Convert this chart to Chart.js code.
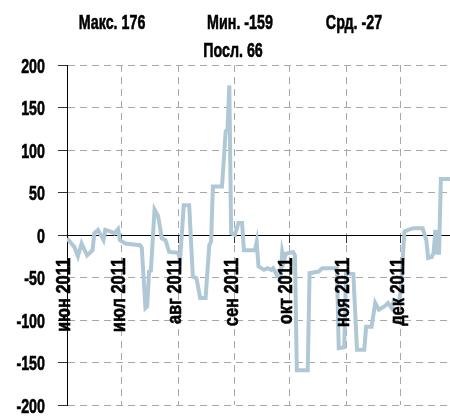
<!DOCTYPE html>
<html>
<head>
<meta charset="utf-8">
<script src="https://cdn.jsdelivr.net/npm/chart.js@4"></script>
<style>
html, body { margin: 0; padding: 0; background: #fff; }
#wrap { width: 450px; height: 417px; }
</style>
</head>
<body>
<div id="wrap"><canvas id="chart"></canvas></div>
<script>
// header texts
const statLabels = ['Макс. 176', 'Мин. -159', 'Срд. -27', 'Посл. 66'];

// month ticks (days counted from 1 June 2011)
const monthDays = [0, 30, 61, 92, 122, 153, 183];
const monthLabels = ['июн 2011', 'июл 2011', 'авг 2011', 'сен 2011', 'окт 2011', 'ноя 2011', 'дек 2011'];

// series
const days = [
    0, 4, 6, 8, 11, 14, 15, 17, 20, 21, 24, 26, 28, 29, 32, 40,
    41, 42, 43, 44, 45, 46, 48, 50, 52, 54, 56, 61, 62, 64, 67, 69,
    71, 73, 76, 78, 79, 80, 85, 87, 88, 89, 90, 92, 94, 96, 97, 103,
    104, 105, 108, 110, 112, 113, 115, 117, 118, 119, 120, 124, 125, 126, 132, 133,
    138, 140, 148, 149, 152, 153, 157, 159, 163, 164, 167, 169, 171, 174, 176, 178,
    179, 182, 183, 185, 187, 190, 195, 197, 198, 200, 201, 202, 203, 204, 205, 210
];
const values = [
    -4, -14, -25, -10, -24, -18, 2, 6, -6, 6, 4, 2, 7, -6, -10, -12,
    -15, -50, -86, -84, -43, -42, 30, 22, -4, -6, -20, -21, -30, 35, 35, -49,
    -51, -74, -74, -12, -8, 57, 57, 122, 124, 176, 2, 0, 14, 14, -18, -18,
    -8, -37, -41, -39, -41, -39, -47, -51, -20, -30, -22, -20, -24, -159, -159, -45,
    -43, -39, -39, -133, -132, -45, -46, -135, -135, -108, -108, -80, -88, -84, -80, -86,
    -79, -80, -65, 4, 6, 8, 8, -6, -27, -26, -21, 6, -21, -21, 66, 66
];

// no condensed face installed, so squeeze a normal one
const FONT = "bold 21px 'Liberation Sans', Arial, sans-serif";

function narrowText(ctx, text, x, y, align, sx, angle) {
    ctx.save();
    ctx.translate(x, y);
    if (angle) ctx.rotate(angle);
    ctx.scale(sx, 1);
    ctx.textAlign = align;
    ctx.textBaseline = 'middle';
    ctx.strokeText(text, 0, 0);
    ctx.fillText(text, 0, 0);
    ctx.restore();
}

const labelsPlugin = {
    id: 'narrowLabels',
    afterDraw(chart) {
        const ctx = chart.ctx;
        const xs = chart.scales.x;
        const ys = chart.scales.y;
        ctx.save();
        ctx.font = FONT;
        ctx.fillStyle = '#000';
        ctx.strokeStyle = '#000';
        ctx.lineWidth = 0.6;

        narrowText(ctx, statLabels[0], 112, 23, 'center', 0.68);
        narrowText(ctx, statLabels[1], 240, 23, 'center', 0.68);
        narrowText(ctx, statLabels[2], 354, 23, 'center', 0.68);
        narrowText(ctx, statLabels[3], 233, 51, 'center', 0.68);

        ys.ticks.forEach(t => {
            narrowText(ctx, String(t.value), ys.right - 22, ys.getPixelForValue(t.value) + 2, 'right', 0.68);
        });

        const y0 = ys.getPixelForValue(0);
        monthDays.forEach((d, i) => {
            narrowText(ctx, monthLabels[i], xs.getPixelForValue(d) - 3, y0 + 23, 'right', 0.78, -Math.PI / 2);
        });
        ctx.restore();
    }
};

const ctx = document.getElementById('chart').getContext('2d');
new Chart(ctx, {
    type: 'line',
    data: {
        datasets: [{
            data: days.map((d, i) => ({ x: d, y: values[i] })),
            borderColor: '#b0c8d6',
            borderWidth: 4,
            pointRadius: 0,
            tension: 0,
            fill: false
        }]
    },
    options: {
        responsive: true,
        maintainAspectRatio: false,
        animation: false,
        layout: { padding: { top: 65, bottom: 12, left: 0, right: 0 } },
        plugins: {
            legend: { display: false },
            tooltip: { enabled: false }
        },
        scales: {
            x: {
                type: 'linear',
                min: 0,
                max: 210,
                position: { y: 0 },
                afterFit: (s) => { s.height = 0; s.paddingLeft = 0; s.paddingRight = 0; },
                afterBuildTicks: (s) => { s.ticks = monthDays.map(v => ({ value: v })); },
                ticks: { display: false, autoSkip: false },
                grid: { color: '#a8a8a8', tickColor: '#333', tickLength: 7 },
                border: { color: '#000', width: 1, dash: [7, 5] }
            },
            y: {
                min: -200,
                max: 200,
                afterFit: (s) => { s.width = 67; s.paddingTop = 0; s.paddingBottom = 0; },
                ticks: { display: false, stepSize: 50 },
                grid: { color: '#a8a8a8', tickColor: '#333', tickLength: 9 },
                border: { color: '#000', width: 1, dash: [7, 5] }
            }
        }
    },
    plugins: [labelsPlugin]
});
</script>
</body>
</html>
